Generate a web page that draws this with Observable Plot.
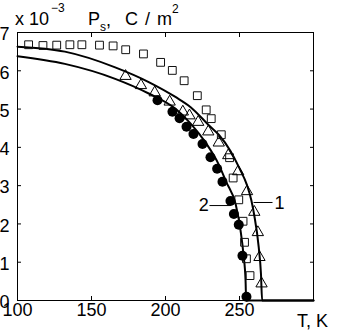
<!DOCTYPE html>
<html>
<head>
<meta charset="utf-8">
<script src="https://cdn.jsdelivr.net/npm/d3@7"></script>
<script src="https://cdn.jsdelivr.net/npm/@observablehq/plot@0.6"></script>
<style>
  html, body { margin: 0; padding: 0; background: #fff; }
  svg { display: block; }
</style>
</head>
<body>
<div id="chart"></div>
<script>
// ---- axis ticks ----
const xTicks = [100, 150, 200, 250, 300];
const xTickLabels = [100, 150, 200, 250];
const yTicks = [0, 1, 2, 3, 4, 5, 6, 7];

// ---- texts ----
const titleMain = "x 10";
const titleExp = "\u22123";
const titleP = "P";
const titleSub = "s";
const titleComma = ",";
const titleUnit = "C / m";
const titleUnitExp = "2";
const xLabel = "T, K";

// ---- series: squares (open) ----
const squareT = [107.5, 117.2, 126.5, 135.4, 143.5, 155.4, 164.6, 173.1, 185.1, 196.7, 204.6, 212.6, 221.5, 227.5, 230.9, 237.7, 243.3, 245.7, 249.5, 252.4, 253.4, 254.7, 257.1];
const squareP = [6.68, 6.66, 6.67, 6.68, 6.68, 6.67, 6.65, 6.55, 6.44, 6.22, 6.01, 5.74, 5.35, 4.98, 4.75, 4.33, 3.73, 3.20, 2.63, 2.07, 1.52, 1.09, 0.65];

// ---- series: triangles (open) ----
const triT = [173.0, 183.4, 192.7, 202.8, 211.7, 216.2, 222.1, 228.9, 236.0, 242.4, 249.1, 255.1, 260.0, 262.4, 263.5, 264.9];
const triP = [5.86, 5.62, 5.43, 5.19, 4.93, 4.83, 4.66, 4.41, 4.12, 3.79, 3.37, 2.85, 2.31, 1.78, 1.13, 0.44];

// ---- series: filled circles ----
const circT = [194.6, 204.7, 209.5, 214.2, 218.9, 225.0, 230.4, 234.9, 238.5, 243.9, 246.2, 249.5, 252.0, 254.7];
const circP = [5.23, 4.93, 4.76, 4.54, 4.35, 4.09, 3.74, 3.44, 3.10, 2.60, 2.26, 1.98, 1.17, 0.10];

// ---- curve 1 (upper) ----
const curve1T = [100, 132, 166, 189, 207, 217, 230, 236, 244, 250, 255, 258, 260, 263, 264.5, 265.3, 300];
const curve1P = [6.63, 6.50, 6.09, 5.70, 5.31, 5.05, 4.55, 4.33, 3.90, 3.45, 3.02, 2.62, 2.22, 1.39, 0.70, 0, 0];

// ---- curve 2 (lower) ----
const curve2T = [100, 132, 166, 189, 207, 217, 227, 236, 241, 247.5, 250.7, 252.7, 254.1, 254.5, 300];
const curve2P = [6.38, 6.18, 5.79, 5.40, 5.00, 4.62, 4.13, 3.55, 3.10, 2.50, 1.83, 1.20, 0.52, 0, 0];

// ---- curve labels with leader lines ----
const curveLabels = ["1", "2"];
const labelT = [277.0, 225.9];
const labelP = [2.55, 2.48];
const leaderT1 = [259.5, 229.7];
const leaderT2 = [272.3, 243.9];
const leaderP = [2.56, 2.48];

const zip = (xs, ys) => xs.map((x, i) => ({T: x, P: ys[i]}));
const squares = zip(squareT, squareP);
const triangles = zip(triT, triP);
const circles = zip(circT, circP);
const curve1 = zip(curve1T, curve1P);
const curve2 = zip(curve2T, curve2P);
const labels = curveLabels.map((t, i) => ({t, T: labelT[i], P: labelP[i]}));
const leaders = leaderT1.map((t1, i) => ({T1: t1, T2: leaderT2[i], P: leaderP[i]}));

const font = "'Liberation Sans', Arial, Helvetica, sans-serif";
const FS = 18;

const chart = Plot.plot({
  width: 343,
  height: 334,
  marginLeft: 17,
  marginRight: 30,
  marginTop: 32,
  marginBottom: 34,
  style: {fontFamily: font, fontSize: FS + "px", color: "#000", background: "#fff", overflow: "visible"},
  x: {domain: [100, 300]},
  y: {domain: [0, 7]},
  marks: [
    Plot.line(curve1, {x: "T", y: "P", stroke: "#000", strokeWidth: 2, curve: "monotone-x"}),
    Plot.line(curve2, {x: "T", y: "P", stroke: "#000", strokeWidth: 2, curve: "monotone-x"}),
    Plot.dot(squares, {x: "T", y: "P", symbol: "square", r: 4.4, stroke: "#111", strokeWidth: 1, fill: "none"}),
    Plot.dot(triangles, {x: "T", y: "P", symbol: "triangle", r: 4.2, stroke: "#000", strokeWidth: 1, fill: "none"}),
    Plot.dot(circles, {x: "T", y: "P", symbol: "circle", r: 5, fill: "#000", stroke: "none"}),
    Plot.link(leaders, {x1: "T1", x2: "T2", y1: "P", y2: "P", stroke: "#000", strokeWidth: 1}),
    Plot.text(labels, {x: "T", y: "P", text: "t", fontSize: FS, fill: "#000"}),
    Plot.frame({stroke: "#000", strokeWidth: 1}),
    Plot.axisX({ticks: xTicks, anchor: "bottom", tickSize: -4, fill: "none", label: null}),
    Plot.axisX({ticks: xTicks, anchor: "top", tickSize: -4, fill: "none", label: null}),
    Plot.axisX({ticks: xTickLabels, anchor: "bottom", tickSize: 0, tickPadding: 3, label: null, fontSize: FS, tickFormat: d => String(d)}),
    Plot.axisY({ticks: yTicks, anchor: "left", tickSize: -4, fill: "none", label: null}),
    Plot.axisY({ticks: yTicks, anchor: "right", tickSize: -4, fill: "none", label: null}),
    Plot.axisY({ticks: yTicks, anchor: "left", tickSize: 0, tickPadding: 8, dy: 2, label: null, fontSize: FS, tickFormat: d => String(d)})
  ]
});
document.getElementById("chart").appendChild(chart);

// axis titles (MATLAB-style, with super/subscripts) added as real SVG text
const svg = d3.select(chart);
const g = svg.append("g")
  .attr("font-family", font)
  .attr("fill", "#000")
  .attr("text-anchor", "start");
const put = (txt, x, y, size) =>
  g.append("text").attr("x", x).attr("y", y).attr("font-size", size).attr("text-anchor", "start").text(txt);
put(titleMain, 15, 25, FS);
put(titleExp, 51, 12, 12);
put(titleP, 88, 25, FS);
put(titleSub, 100, 31, 12);
put(titleComma, 106, 26, FS);
put(titleUnit, 125, 25, FS).attr("letter-spacing", 1);
put(titleUnitExp, 172, 13, 12);
put(xLabel, 297, 327, FS);
</script>
</body>
</html>
